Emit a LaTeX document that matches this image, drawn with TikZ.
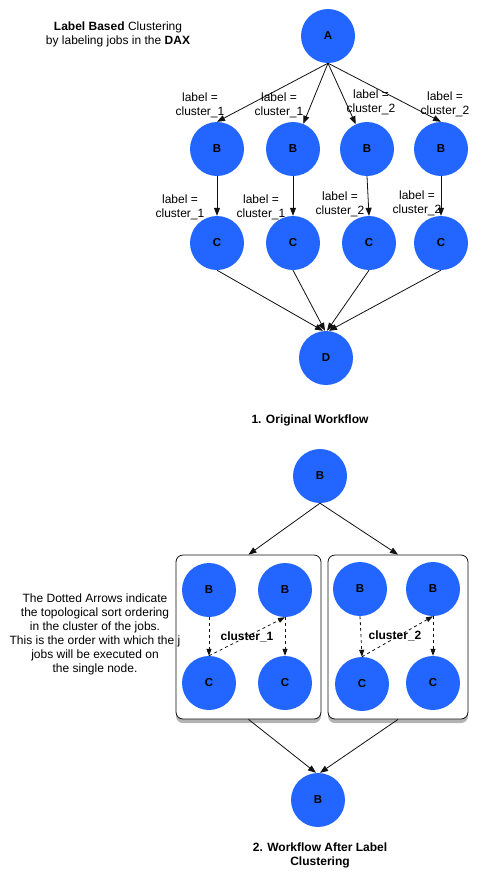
\documentclass[tikz,border=0pt]{standalone}
\usepackage{fontspec}
\setmainfont{Liberation Sans}
\usetikzlibrary{arrows.meta,shadows}
\definecolor{jobblue}{HTML}{2266FF}
\definecolor{jobblack}{HTML}{111111}

\begin{document}
\begin{tikzpicture}[x=1pt, y=-1pt,
		job/.style={circle, fill=jobblue, minimum size=54pt, inner sep=0pt, font=\fontsize{11.5}{13}\selectfont\bfseries},
		lbl/.style={align=center, inner sep=0pt, font=\fontsize{12}{14}\selectfont},
		edge/.style={color=jobblack, line width=0.8pt, -{Triangle[length=8pt,width=6pt]}},
		order/.style={edge, dashed, -{Triangle[length=7pt,width=5pt]}},
		group/.style={draw=jobblack, line width=0.8pt, rounded corners=7pt, fill=white, minimum height=164pt, inner sep=0pt,
			drop shadow={shadow xshift=0pt, shadow yshift=-4pt, opacity=0.6}}]
		\useasboundingbox (0,0) rectangle (488,879);
		% 1. original workflow
		\node[lbl] (title) at (118,34) {\textbf{Label Based} Clustering\\by labeling jobs in the \textbf{DAX}};
		\node[job] (A) at (328,36) {A};
		\node[job] (B1) at (217,149) {B};
		\node[job] (B2) at (293,149) {B};
		\node[job] (B3) at (367,149) {B};
		\node[job] (B4) at (441,149) {B};
		\node[job] (C1) at (217,243) {C};
		\node[job] (C2) at (293,243) {C};
		\node[job] (C3) at (369,243) {C};
		\node[job] (C4) at (441,243) {C};
		\node[job] (D) at (326,358) {D};
		\draw[edge] (A.south) -- (B1.north);
		\draw[edge] (A.south) -- (B2);
		\draw[edge] (A.south) -- (B3);
		\draw[edge] (A.south) -- (B4.north);
		\foreach \i in {1,...,4} {
			\draw[edge] (B\i.south) -- (C\i.north);
		}
		\draw[edge] (C1.south) -- ([xshift=-3pt]D.north);
		\draw[edge] (C2.south) -- ([xshift=-1pt]D.north);
		\draw[edge] (C3.south) -- ([xshift=1pt]D.north);
		\draw[edge] (C4.south) -- ([xshift=3pt]D.north);
		\node[lbl] (l1) at (200,105) {label =\\cluster\_1};
		\node[lbl] (l2) at (279,105) {label =\\cluster\_1};
		\node[lbl] (l3) at (371,102) {label =\\cluster\_2};
		\node[lbl] (l4) at (445,104) {label =\\cluster\_2};
		\node[lbl] (m1) at (180,207) {label =\\cluster\_1};
		\node[lbl] (m2) at (261,207) {label =\\cluster\_1};
		\node[lbl] (m3) at (340,204) {label =\\cluster\_2};
		\node[lbl] (m4) at (417,203) {label =\\cluster\_2};
		\node[lbl, font=\fontsize{12}{14}\selectfont\bfseries] (cap1) at (310,420) {1. Original Workflow};
		% 2. after label clustering
		\node[job] (T) at (320,476) {B};
		\node[group, minimum width=145pt] (G1) at (248.5,637) {};
		\node[group, minimum width=140pt] (G2) at (398,637) {};
		\draw[edge] (T.south) -- (G1.north);
		\draw[edge] (T.south) -- (G2.north);
		\node[job] (P1) at (209,590) {B};
		\node[job] (P2) at (285,590) {B};
		\node[job] (Q1) at (209,683) {C};
		\node[job] (Q2) at (285,683) {C};
		\node[job] (P3) at (360,589) {B};
		\node[job] (P4) at (433,589) {B};
		\node[job] (Q3) at (362,684) {C};
		\node[job] (Q4) at (433,683) {C};
		\draw[order] (P1.south) -- (Q1.north);
		\draw[order] (Q1.north) -- (P2.south);
		\draw[order] (P2.south) -- (Q2.north);
		\draw[order] (P3.south) -- (Q3.north);
		\draw[order] (Q3.north) -- (P4.south);
		\draw[order] (P4.south) -- (Q4.north);
		\node[lbl, font=\fontsize{12}{14}\selectfont\bfseries] (k1) at (247,637) {cluster\_1};
		\node[lbl, font=\fontsize{12}{14}\selectfont\bfseries] (k2) at (395,636) {cluster\_2};
		\node[lbl] (note) at (95,634) {The Dotted Arrows indicate\\the topological sort ordering\\in the cluster of the jobs.\\This is the order with which the j\\jobs will be executed on\\the single node.};
		\node[job] (S) at (318,800) {B};
		\draw[edge] (G1.south) -- ([xshift=-2pt]S.north);
		\draw[edge] (G2.south) -- ([xshift=2pt]S.north);
		\node[lbl, font=\fontsize{12}{14}\selectfont\bfseries] (cap2) at (320,855) {2. Workflow After Label\\Clustering};
	\end{tikzpicture}
\end{document}
